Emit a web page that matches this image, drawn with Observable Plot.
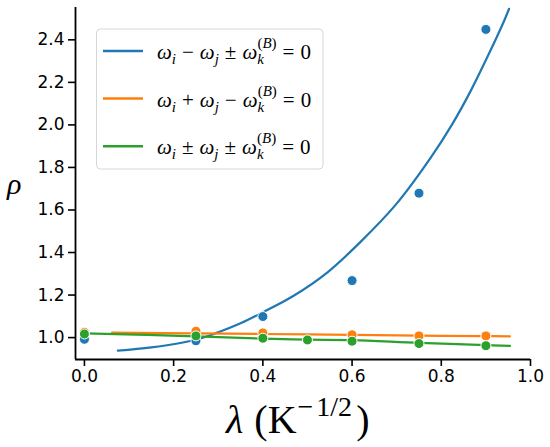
<!DOCTYPE html>
<html>
<head>
<meta charset="utf-8">
<script src="https://cdn.jsdelivr.net/npm/d3@7"></script>
<script src="https://cdn.jsdelivr.net/npm/@observablehq/plot@0.6"></script>
<style>
  html, body { margin: 0; padding: 0; background: #fff; }
  #chart { position: relative; width: 550px; height: 447px; }
</style>
</head>
<body>
<div id="chart"></div>
<script>
// ---- data ----
const xTicks = [0, 0.2, 0.4, 0.6, 0.8, 1.0];
const yTicks = [1.0, 1.2, 1.4, 1.6, 1.8, 2.0, 2.2, 2.4];
const xDomain = [-0.02, 1.0];
const yDomain = [0.897, 2.552];

const seriesNames = ["diff", "sum", "pm"];
const seriesColors = ["#1f77b4", "#ff7f0e", "#2ca02c"];

// measured points
const blueLam = [0, 0.25, 0.4, 0.6, 0.75, 0.9];
const blueRho = [0.992, 0.985, 1.099, 1.268, 1.679, 2.449];
const orangeLam = [0, 0.25, 0.4, 0.6, 0.75, 0.9];
const orangeRho = [1.025, 1.030, 1.022, 1.013, 1.008, 1.008];
const greenLam = [0, 0.25, 0.4, 0.5, 0.6, 0.75, 0.9];
const greenRho = [1.017, 1.008, 0.997, 0.989, 0.983, 0.972, 0.962];

// fitted curves
const blueFitLam = [0.075, 0.15, 0.25, 0.3, 0.35, 0.4, 0.47, 0.545, 0.619, 0.698, 0.776, 0.825, 0.866, 0.9035, 0.941, 0.952];
const blueFitRho = [0.939, 0.954, 0.99, 1.025, 1.067, 1.119, 1.198, 1.307, 1.45, 1.625, 1.845, 2.005, 2.16, 2.32, 2.49, 2.546];
const orangeFitLam = [0.062, 0.25, 0.4, 0.6, 0.75, 0.9, 0.954];
const orangeFitRho = [1.023, 1.020, 1.017, 1.013, 1.009, 1.007, 1.006];
const greenFitLam = [0, 0.25, 0.4, 0.5, 0.6, 0.75, 0.9, 0.954];
const greenFitRho = [1.020, 1.006, 0.995, 0.990, 0.988, 0.975, 0.965, 0.961];

const zip = (xs, ys) => xs.map((x, i) => ({x, y: ys[i]}));
const pts = [zip(blueLam, blueRho), zip(orangeLam, orangeRho), zip(greenLam, greenRho)];
const fits = [zip(blueFitLam, blueFitRho), zip(orangeFitLam, orangeFitRho), zip(greenFitLam, greenFitRho)];

const fmt = d3.format(".1f");

const chart = Plot.plot({
  width: 550,
  height: 447,
  marginLeft: 75,
  marginRight: 20,
  marginTop: 7,
  marginBottom: 88,
  style: {fontFamily: "DejaVu Sans", color: "#000", background: "#fff"},
  x: {domain: xDomain, label: null},
  y: {domain: yDomain, label: null},
  marks: [
    Plot.axisX({ticks: xTicks, tickFormat: fmt, tickSize: 7, tickPadding: 3, fontSize: 17, strokeWidth: 1.6, label: null}),
    Plot.axisY({ticks: yTicks, tickFormat: fmt, tickSize: 7, tickPadding: 4, fontSize: 17, strokeWidth: 1.6, label: null}),
    Plot.ruleX([xDomain[0]], {stroke: "#000", strokeWidth: 1.8}),
    Plot.ruleY([yDomain[0]], {stroke: "#000", strokeWidth: 1.8}),
    ...fits.map((f, i) => Plot.line(f, {x: "x", y: "y", stroke: seriesColors[i], strokeWidth: 2.2, curve: "catmull-rom"})),
    ...pts.map((p, i) => Plot.dot(p, {x: "x", y: "y", r: 5, fill: seriesColors[i], stroke: "#fff", strokeWidth: 1})),
  ]
});

document.getElementById("chart").appendChild(chart);

// ---- labels and legend (math-style text) ----
const svg = d3.select(chart);
const SERIF = "Liberation Serif";

function richText(g, x, y, size, segs) {
  const t = g.append("text").attr("x", x).attr("y", y)
    .attr("text-anchor", "start")
    .attr("font-family", SERIF).attr("font-size", size).attr("fill", "#000");
  for (const s of segs) {
    const ts = t.append("tspan").text(s.t);
    if (s.it) ts.attr("font-style", "italic");
    if (s.size) ts.attr("font-size", s.size);
    if (s.dx) ts.attr("dx", s.dx);
    if (s.dy) ts.attr("dy", s.dy);
  }
  return t;
}

// y label
richText(svg, 7, 194, 30, [{t: "ρ", it: true}]);

// x label
richText(svg, 226, 433, 40, [
  {t: "λ", it: true},
  {t: "(", dx: 11},
  {t: "K"},
  {t: "−", size: 28, dy: -17, dx: 1},
  {t: "1/2", size: 28, dx: 3},
  {t: ")", dy: 17, dx: 4}
]);

// legend
function legendSegs(op1, op2) {
  return [
    {t: "ω", it: true}, {t: "i", it: true, size: 15, dy: 5},
    {t: op1, dx: 6, dy: -5}, {t: "ω", it: true, dx: 6}, {t: "j", it: true, size: 15, dy: 5},
    {t: op2, dx: 6, dy: -5}, {t: "ω", it: true, dx: 6}, {t: "k", it: true, size: 15, dy: 5},
    {t: "(", size: 15, dx: -6.5, dy: -16}, {t: "B", it: true, size: 15}, {t: ")", size: 15},
    {t: "=", dx: 6, dy: 11}, {t: "0", dx: 6}
  ];
}
const legendLabels = [legendSegs("−", "±"), legendSegs("+", "−"), legendSegs("±", "±")];

const lg = svg.append("g");
lg.append("rect").attr("x", 96.5).attr("y", 29).attr("width", 226.5).attr("height", 140)
  .attr("rx", 4).attr("fill", "#fff").attr("fill-opacity", 0.8)
  .attr("stroke", "#d6d6d6").attr("stroke-width", 1);
legendLabels.forEach((segs, i) => {
  const cy = 51 + i * 47.6;
  lg.append("line").attr("x1", 103).attr("x2", 143).attr("y1", cy).attr("y2", cy)
    .attr("stroke", seriesColors[i]).attr("stroke-width", 2.5);
  richText(lg, 157, cy + 8, 21, segs);
});
</script>
</body>
</html>
